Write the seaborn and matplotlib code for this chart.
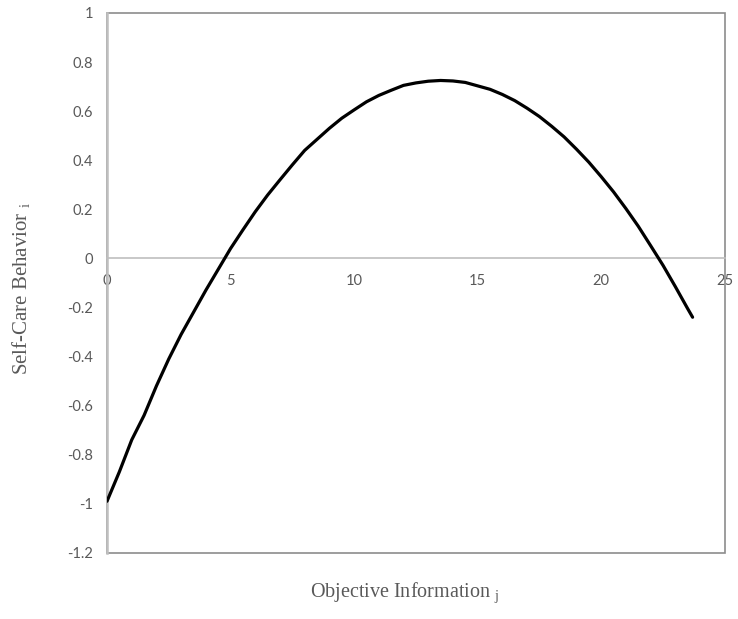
import matplotlib
matplotlib.use("Agg")
import matplotlib.pyplot as plt
import seaborn as sns
import pandas as pd
from matplotlib.patches import Rectangle

# values
objective_info = [0, 0.5, 1, 1.5, 2, 2.5, 3, 3.5, 4, 4.5, 5, 5.5, 6, 6.5, 7, 7.5,
                  8, 8.5, 9, 9.5, 10, 10.5, 11, 11.5, 12, 12.5, 13, 13.5, 14, 14.5,
                  15, 15.5, 16, 16.5, 17, 17.5, 18, 18.5, 19, 19.5, 20, 20.5, 21,
                  21.5, 22, 22.5, 23, 23.5, 23.7]
self_care = [-0.99, -0.87, -0.74, -0.64, -0.52, -0.41, -0.31, -0.22, -0.13, -0.045,
             0.04, 0.116, 0.19, 0.258, 0.32, 0.381, 0.44, 0.485, 0.53, 0.571,
             0.605, 0.638, 0.664, 0.685, 0.705, 0.715, 0.722, 0.725, 0.723, 0.717,
             0.703, 0.689, 0.668, 0.643, 0.612, 0.578, 0.538, 0.495, 0.445, 0.392,
             0.333, 0.271, 0.203, 0.131, 0.052, -0.028, -0.115, -0.205, -0.24]

x_ticks = [0, 5, 10, 15, 20, 25]
y_ticks = [-1.2, -1, -0.8, -0.6, -0.4, -0.2, 0, 0.2, 0.4, 0.6, 0.8, 1]
y_labels = ["-1.2", "-1", "-0.8", "-0.6", "-0.4", "-0.2", "0", "0.2", "0.4", "0.6", "0.8", "1"]

df = pd.DataFrame({"x": objective_info, "y": self_care})

sns.set_style("white")
plt.rcParams["font.family"] = ["Lato", "DejaVu Sans"]

fig = plt.figure(figsize=(7.38, 6.19), dpi=100)
ax = fig.add_axes([0.145, 0.107, 0.837, 0.872])

sns.lineplot(data=df, x="x", y="y", ax=ax, color="black", linewidth=2.3, zorder=5)

ax.set_xlim(0, 25)
ax.set_ylim(-1.2, 1)
ax.set_xticks(x_ticks)
ax.set_xticklabels([str(t) for t in x_ticks])
ax.set_yticks(y_ticks)
ax.set_yticklabels(y_labels)
ax.set_xlabel("")
ax.set_ylabel("")

axis_grey = "#BFBFBF"
text_grey = "#595959"

# plot-area border
ax.add_patch(Rectangle((0, 0), 1, 1, transform=ax.transAxes, fill=False,
                       edgecolor="#8C8C8C", linewidth=1.2, zorder=1, clip_on=False))

for side in ["top", "right"]:
    ax.spines[side].set_visible(False)
ax.spines["bottom"].set_position(("data", 0))
ax.spines["bottom"].set_color(axis_grey)
ax.spines["bottom"].set_linewidth(1.2)
ax.spines["left"].set_color(axis_grey)
ax.spines["left"].set_linewidth(1.8)
ax.spines["left"].set_zorder(3)

ax.tick_params(axis="x", direction="out", length=4, width=1, color=axis_grey,
               labelsize=10.5, labelcolor=text_grey, pad=7)
ax.tick_params(axis="y", direction="out", length=4, width=1, color=axis_grey,
               labelsize=10.5, labelcolor=text_grey, pad=6)

fig.text(0.03, 0.533, r"Self-Care Behavior $_\mathregular{i}$", rotation=90,
         ha="center", va="center", color=text_grey, fontsize=15,
         family=["Liberation Serif", "DejaVu Serif"])
fig.text(0.549, 0.042, r"Objective Information $_\mathregular{j}$",
         ha="center", va="center", color=text_grey, fontsize=14.5,
         family=["Liberation Serif", "DejaVu Serif"])

fig.savefig("out.png", dpi=100)
